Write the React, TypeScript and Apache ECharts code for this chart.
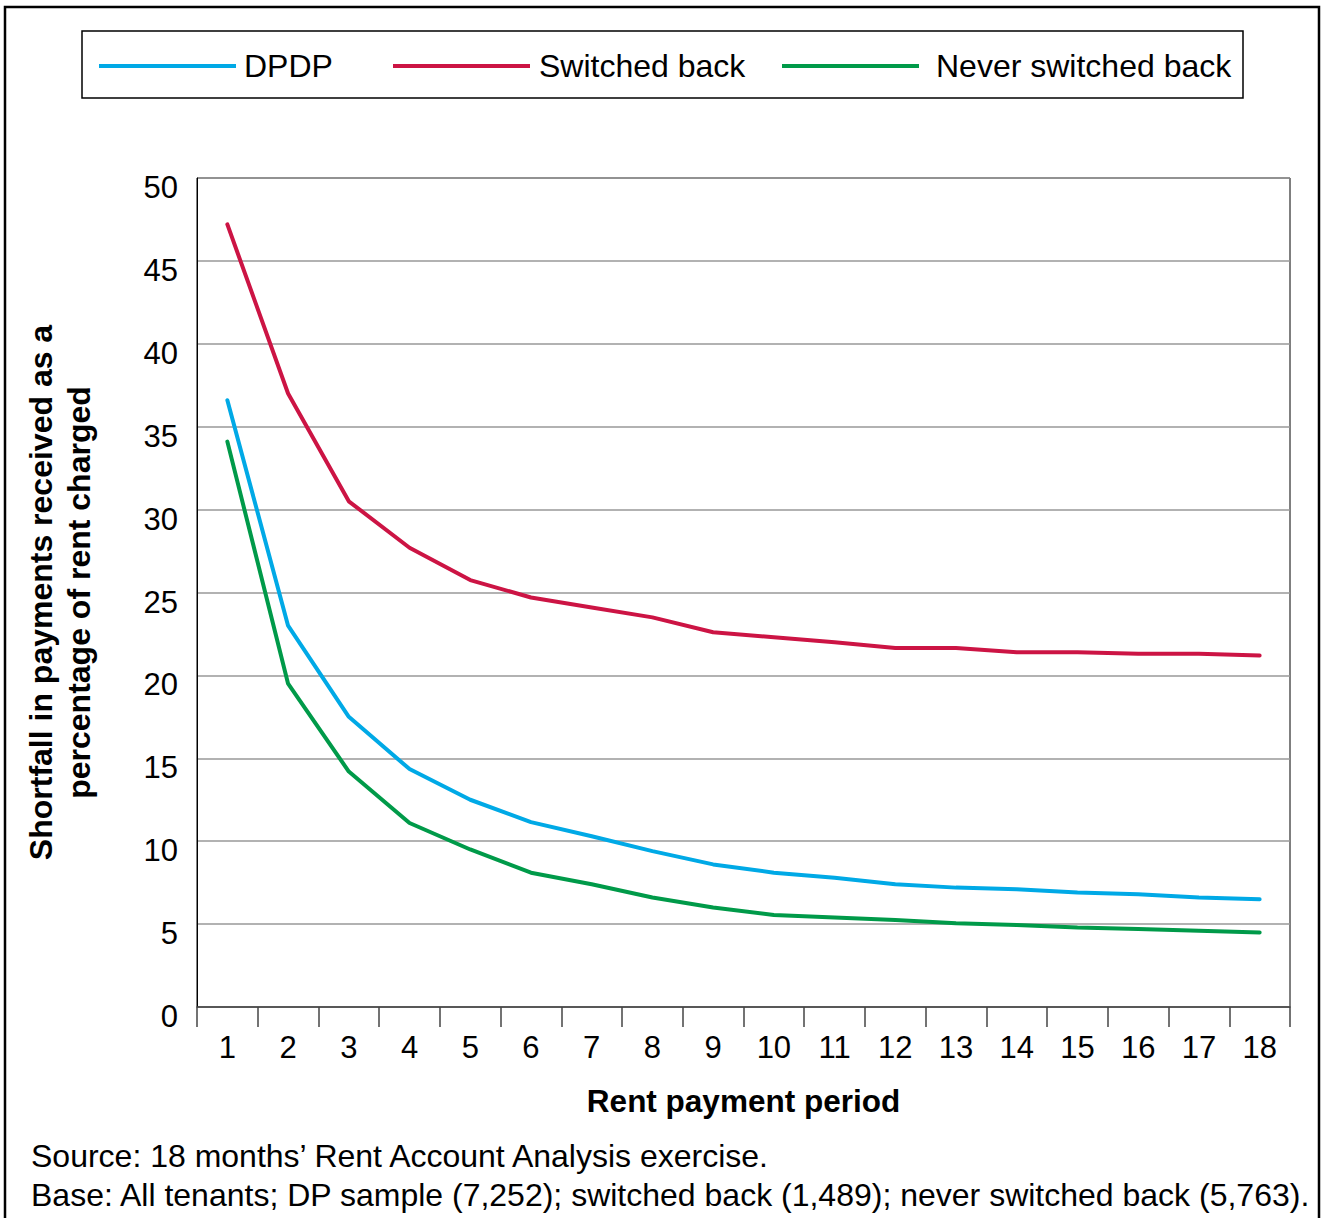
import React, { useEffect, useRef } from "react";
import * as echarts from "echarts";

const periods = ["1","2","3","4","5","6","7","8","9","10","11","12","13","14","15","16","17","18"];
const dpdp = [36.6, 23.0, 17.5, 14.35, 12.5, 11.15, 10.3, 9.4, 8.6, 8.1, 7.8, 7.4, 7.2, 7.1, 6.9, 6.8, 6.6, 6.5];
const switchedBack = [47.2, 37.0, 30.5, 27.7, 25.75, 24.7, 24.1, 23.5, 22.6, 22.3, 22.0, 21.65, 21.65, 21.4, 21.4, 21.3, 21.3, 21.2];
const neverSwitchedBack = [34.1, 19.5, 14.2, 11.1, 9.5, 8.1, 7.4, 6.6, 6.0, 5.55, 5.4, 5.25, 5.05, 4.95, 4.8, 4.7, 4.6, 4.5];
const seriesNames = ["DPDP", "Switched back", "Never switched back"];
const colors = ["#00A9E6", "#CC1444", "#009A49"];
const yTitle = "Shortfall in payments received as a\npercentage of rent charged";
const xTitle = "Rent payment period";
const sourceText = "Source: 18 months\u2019 Rent Account Analysis exercise.";
const baseText = "Base: All tenants; DP sample (7,252); switched back (1,489); never switched back (5,763).";

const FONT = "'Liberation Sans', Arial, sans-serif";

export default function App() {
  const ref = useRef<HTMLDivElement>(null);
  useEffect(() => {
    document.body.style.margin = "0";
    const chart = echarts.init(ref.current!, null, { renderer: "svg" });
    const legendLefts = [99, 393, 782];
    const textPads = [3, 4, 12];
    chart.setOption({
      animation: false,
      backgroundColor: "#ffffff",
      textStyle: { fontFamily: FONT },
      legend: seriesNames.map((n, i) => ({
        data: [n],
        left: legendLefts[i],
        top: 50,
        padding: 0,
        itemWidth: 137,
        itemHeight: 4,
        icon: "rect",
        textStyle: { fontSize: 32, color: "#000", fontFamily: FONT, padding: [0, 0, 0, textPads[i]] },
      })),
      grid: { left: 197, top: 178, right: 31, bottom: 211, show: true, borderColor: "#000", borderWidth: 1 },
      xAxis: {
        type: "category",
        data: periods,
        boundaryGap: true,
        axisLine: { lineStyle: { color: "#444", width: 1.5 } },
        axisTick: { show: true, interval: 0, length: 20, lineStyle: { color: "#444", width: 1.5 } },
        axisLabel: { interval: 0, fontSize: 31, color: "#000", margin: 25, fontFamily: FONT },
        name: xTitle,
        nameLocation: "middle",
        nameGap: 78,
        nameTextStyle: { fontSize: 31.5, fontWeight: "bold", color: "#000", fontFamily: FONT },
      },
      yAxis: {
        type: "value",
        min: 0,
        max: 50,
        interval: 5,
        axisLine: { show: true, lineStyle: { color: "#000", width: 1 } },
        axisTick: { show: false },
        splitLine: { lineStyle: { color: "#999", width: 1.5 } },
        axisLabel: { fontSize: 31, color: "#000", margin: 19, fontFamily: FONT, verticalAlign: "top", lineHeight: 19 },
        name: yTitle,
        nameLocation: "middle",
        nameGap: 99,
        nameTextStyle: { fontSize: 32, fontWeight: "bold", color: "#000", fontFamily: FONT, lineHeight: 38, align: "center" },
      },
      series: [dpdp, switchedBack, neverSwitchedBack].map((d, i) => ({
        name: seriesNames[i],
        type: "line",
        data: d,
        symbol: "none",
        color: colors[i],
        lineStyle: { width: 4, color: colors[i], cap: "round" },
      })),
      graphic: [
        { type: "rect", shape: { x: 5, y: 7, width: 1314, height: 1230 }, style: { fill: "none", stroke: "#000", lineWidth: 2.5 }, silent: true },
        { type: "rect", shape: { x: 82, y: 31, width: 1161, height: 67 }, style: { fill: "none", stroke: "#000", lineWidth: 1.5 }, silent: true },
        { type: "text", left: 31, top: 1140, style: { text: sourceText, font: `32px ${FONT}`, fill: "#000" } },
        { type: "text", left: 31, top: 1179, style: { text: baseText, font: `32px ${FONT}`, fill: "#000" } },
      ],
    });
    return () => chart.dispose();
  }, []);
  return <div ref={ref} style={{ width: 1321, height: 1218 }} />;
}
